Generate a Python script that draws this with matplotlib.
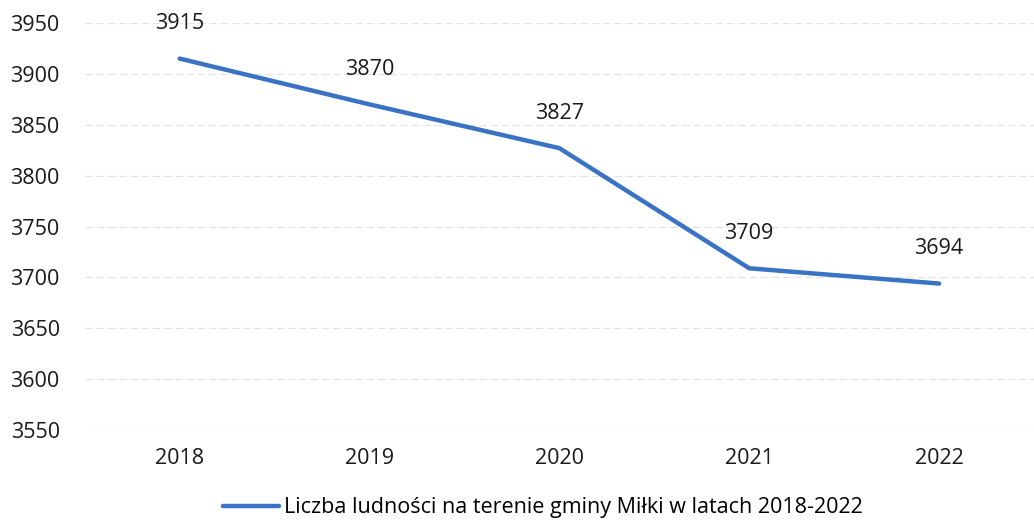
import matplotlib.pyplot as plt

# ── Data ──────────────────────────────────────────────────────────────────────
years = ['2018', '2019', '2020', '2021', '2022']
population = [3915, 3870, 3827, 3709, 3694]
y_ticks = [3550, 3600, 3650, 3700, 3750, 3800, 3850, 3900, 3950]
series_label = 'Liczba ludności na terenie gminy Miłki w latach 2018-2022'

FONT = 'Open Sans'
FS = 15.5
LINE_COL = '#3a72c4'

fig = plt.figure(figsize=(10.34, 5.22), dpi=100, facecolor='white')
ax = fig.add_axes([0.082, 0.176, 0.918, 0.780])

x = list(range(len(years)))
ax.plot(x, population, color=LINE_COL, lw=3.2, solid_capstyle='round',
        solid_joinstyle='round', label=series_label, zorder=3)

for xi, v in zip(x, population):
    ax.annotate(str(v), (xi, v), xytext=(0, 25), textcoords='offset points',
                ha='center', va='center', fontsize=FS, fontfamily=FONT,
                color='#1a1a1a')

ax.set_xlim(-0.5, len(years) - 0.5)
ax.set_ylim(3550, 3950)
ax.set_yticks(y_ticks)
ax.set_xticks(x)
ax.set_xticklabels(years)
ax.yaxis.grid(True, color='#e3e3e3', lw=0.9, ls=(0, (6, 3)))
ax.set_axisbelow(True)
for s in ax.spines.values():
    s.set_visible(False)
ax.tick_params(length=0, labelsize=FS, colors='#1a1a1a')
ax.tick_params(axis='x', pad=13)
ax.tick_params(axis='y', pad=18)
for lbl in ax.get_xticklabels() + ax.get_yticklabels():
    lbl.set_fontfamily(FONT)

fig.legend(loc='lower center', bbox_to_anchor=(0.525, -0.03), frameon=False,
           prop={'family': FONT, 'size': FS}, handlelength=2.6,
           handletextpad=0.2)

fig.savefig('out.png', dpi=100, facecolor='white')
